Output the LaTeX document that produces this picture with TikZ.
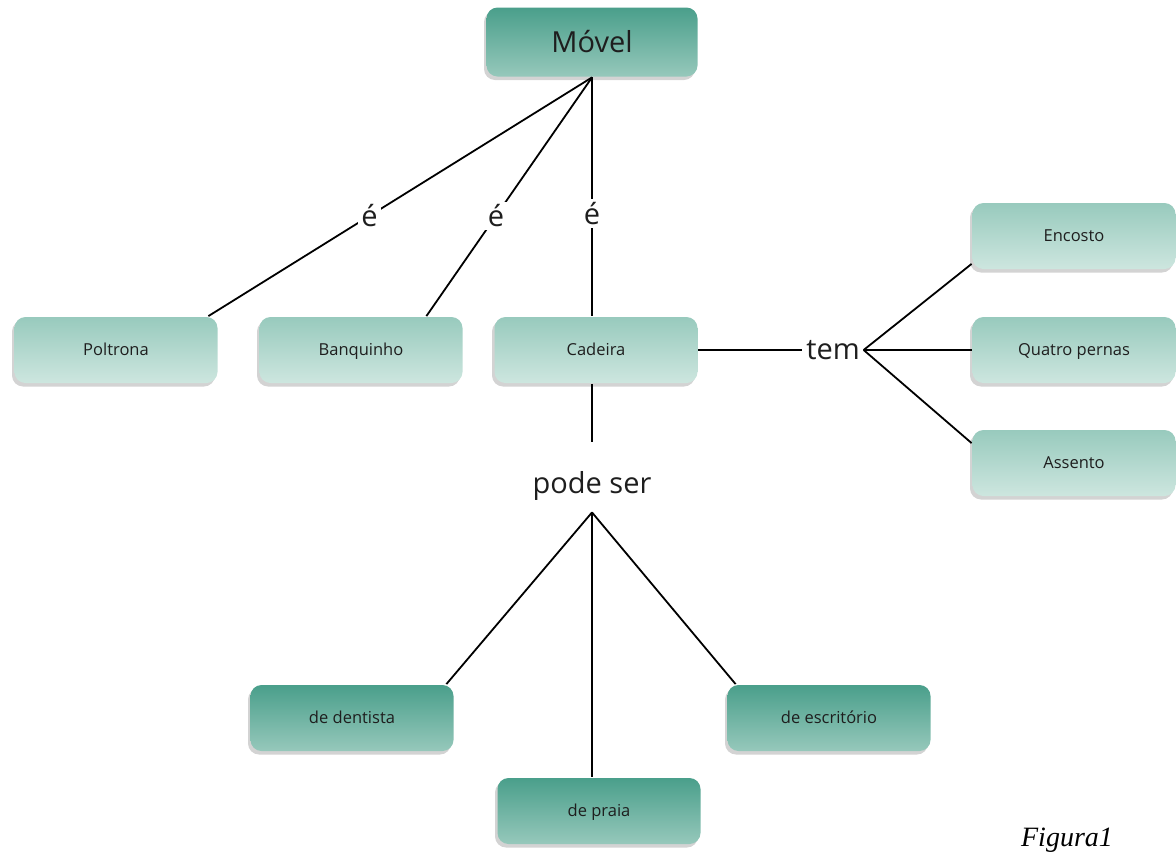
\documentclass[tikz,border=0pt]{standalone}
\usepackage{fontspec}
\setsansfont{Open Sans}
\newfontfamily\figfont{Liberation Serif}
\usetikzlibrary{shadows}

\definecolor{tealtop}{HTML}{4A9F8B}
\definecolor{tealbot}{HTML}{96C8BB}
\definecolor{mintop}{HTML}{98CABD}
\definecolor{minbot}{HTML}{CDE6DF}
\definecolor{ink}{HTML}{1E1E1E}

\begin{document}
\begin{tikzpicture}[x=1pt,y=-1pt,line width=1.8pt,
    box/.style={rounded corners=11pt,minimum width=203pt,minimum height=66pt,
      text=ink,text height=11.7pt,text depth=0pt,
      font=\sffamily\fontsize{16.5}{19}\selectfont,
      drop shadow={shadow xshift=-2.5pt,shadow yshift=-3.5pt,opacity=0.35}},
    darkbox/.style={box,top color=tealtop,bottom color=tealbot},
    lightbox/.style={box,top color=mintop,bottom color=minbot},
    rel/.style={fill=white,inner sep=3pt,text=ink,font=\sffamily\fontsize{29}{32}\selectfont}]
  \useasboundingbox (0,0) rectangle (1176,852);
  % boxes
  \node[darkbox,minimum width=211pt,minimum height=69pt,text height=20.6pt,
    font=\sffamily\fontsize{29}{32}\selectfont] (movel) at (592,42) {Móvel};
  \node[lightbox] (poltrona) at (116,350) {Poltrona};
  \node[lightbox] (banquinho) at (361,350) {Banquinho};
  \node[lightbox] (cadeira) at (596,350) {Cadeira};
  \node[lightbox] (encosto) at (1074,236) {Encosto};
  \node[lightbox] (pernas) at (1074,350) {Quatro pernas};
  \node[lightbox] (assento) at (1074,463) {Assento};
  \node[darkbox] (dentista) at (352,718) {de dentista};
  \node[darkbox] (praia) at (599,811) {de praia};
  \node[darkbox] (escritorio) at (829,718) {de escritório};
  % relation words
  \node[rel] (tem) at (833,350) {tem};
  \node[rel,inner sep=1pt] (podeser) at (592,486) {pode ser};
  % links from Movel
  \draw (movel.south) -- node[rel,pos=0.58] (e1) {é} ([xshift=-10pt]poltrona.north east);
  \draw (movel.south) -- node[rel,pos=0.58] (e2) {é} ([xshift=-37pt]banquinho.north east);
  \draw (movel.south) -- node[rel,pos=0.57] (e3) {é} (cadeira.north -| movel.south);
  % Cadeira tem ...
  \draw (cadeira.east) -- (cadeira.east -| tem.west);
  \draw (tem.east) -- ([yshift=6pt]encosto.south west);
  \draw (tem.east) -- (pernas.west);
  \draw (tem.east) -- ([yshift=-14pt]assento.north west);
  % Cadeira pode ser ...
  \draw (cadeira.south -| movel.south) -- ([yshift=28pt]podeser.north);
  \draw ([yshift=-10pt]podeser.south) -- ([xshift=-8pt]dentista.north east);
  \draw ([yshift=-10pt]podeser.south) -- (praia.north -| podeser.south);
  \draw ([yshift=-10pt]podeser.south) -- ([xshift=9pt]escritorio.north west);
  \node[font=\figfont\itshape\fontsize{28}{30}\selectfont,anchor=base] (legenda) at (1067,846) {Figura1};
\end{tikzpicture}
\end{document}
